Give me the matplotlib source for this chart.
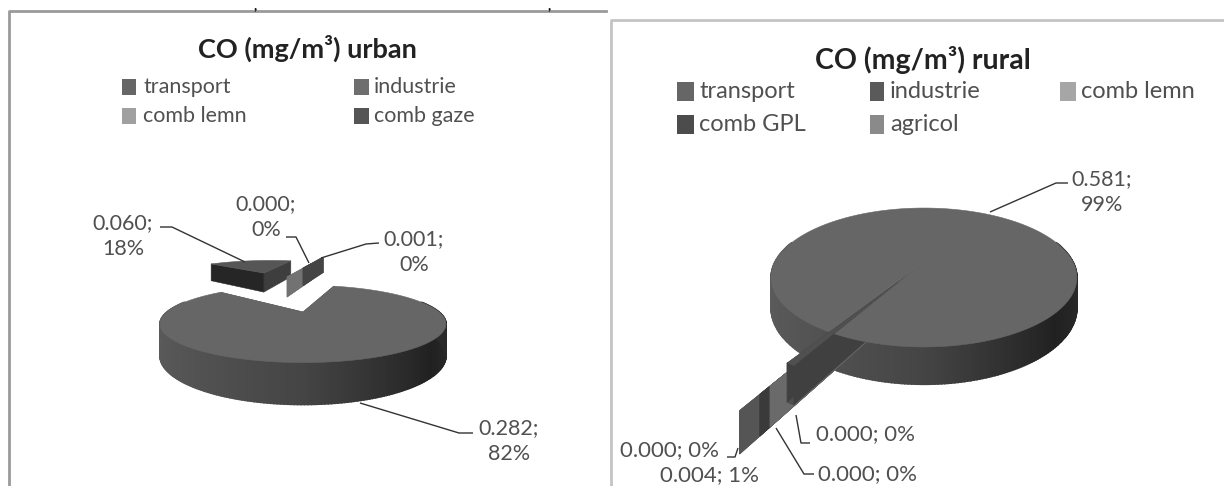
import numpy as np
import matplotlib
matplotlib.use("Agg")
import matplotlib.pyplot as plt
from matplotlib.patches import Rectangle

plt.rcParams['font.family'] = ['Lato', 'DejaVu Sans']

# CO sources, urban
urban_names = ['transport', 'industrie', 'comb lemn', 'comb gaze']
urban_values = [0.282, 0.001, 0.000, 0.060]
urban_shares = [82, 0, 0, 18]
# CO sources, rural
rural_names = ['transport', 'industrie', 'comb lemn', 'comb GPL', 'agricol']
rural_values = [0.581, 0.004, 0.000, 0.000, 0.000]
rural_shares = [99, 1, 0, 0, 0]

TEXT = '#505050'


def project(u, v, z, pie):
    # perspective from unit disc coordinates to pixels, z=0 top face, z=1 bottom
    s = 1.0/(1.0 + pie['p']*v)
    return pie['cx'] + pie['rx']*u*s, pie['cy'] + (-pie['ry']*v + pie['depth']*z)*s


def wall_gray(theta):
    return np.interp(np.cos(theta), [-1, 0, 0.75, 1], [0.36, 0.27, 0.13, 0.16])


def draw_slice_sides(ax, pie, t1, t2, off, cut_colors):
    # outer wall, one small quad per step so the shading runs around the rim
    n = max(int(np.degrees(t2-t1)), 1)
    th = np.linspace(t1, t2, n+1)
    for a, b in zip(th[:-1], th[1:]):
        if np.sin(a) > 0.3 and np.sin(b) > 0.3:
            continue
        pts = [project(off[0]+np.cos(a), off[1]+np.sin(a), 0, pie),
               project(off[0]+np.cos(b), off[1]+np.sin(b), 0, pie),
               project(off[0]+np.cos(b), off[1]+np.sin(b), 1, pie),
               project(off[0]+np.cos(a), off[1]+np.sin(a), 1, pie)]
        g = str(wall_gray((a+b)/2))
        ax.fill(*zip(*pts), color=g, lw=1.2)
    # cut faces from the slice tip out to the rim
    for t, col in zip((t1, t2), cut_colors):
        pts = [project(off[0], off[1], 0, pie),
               project(off[0]+np.cos(t), off[1]+np.sin(t), 0, pie),
               project(off[0]+np.cos(t), off[1]+np.sin(t), 1, pie),
               project(off[0], off[1], 1, pie)]
        ax.fill(*zip(*pts), color=col, lw=0.4)


def draw_slice_top(ax, pie, t1, t2, off, color):
    th = np.linspace(t1, t2, max(int(np.degrees(t2-t1)), 1)+1)
    xs, ys = project(off[0]+np.cos(th), off[1]+np.sin(th), 0, pie)
    x0, y0 = project(off[0], off[1], 0, pie)
    ax.fill(np.r_[x0, xs], np.r_[y0, ys], color=color, lw=0.4)


def draw_pie(ax, values, pie, explode, styles, order):
    # slices run counter-clockwise from the start angle, sized by value
    total = sum(values)
    sweep = np.radians(np.array(values)/total*360.0)
    edges = np.radians(pie['start']) + np.r_[0, np.cumsum(sweep)]
    offs = [(r*np.cos(np.radians(a)), r*np.sin(np.radians(a))) for r, a in explode]
    # first slice is the body of the pie, its top goes on last
    draw_slice_sides(ax, pie, edges[0], edges[1], offs[0], styles[0][1:])
    for i in order:
        draw_slice_sides(ax, pie, edges[i], edges[i+1], offs[i], styles[i][1:])
        draw_slice_top(ax, pie, edges[i], edges[i+1], offs[i], styles[i][0])
    draw_slice_top(ax, pie, edges[0], edges[1], offs[0], styles[0][0])


def leader(ax, pts):
    ax.plot(*zip(*pts), color='#333333', lw=1.0, solid_capstyle='butt', zorder=5)


def legend(ax, names, colors, boxes, text_x, rows, size):
    for name, col, (c, r) in zip(names, colors, rows):
        x0, w = boxes[c]
        y, h = r
        ax.add_patch(Rectangle((x0, y-h/2), w, h, color=col, lw=0))
        ax.text(text_x[c], y, name, color=TEXT, fontsize=size, va='center', ha='left')


fig = plt.figure(figsize=(12.24, 4.86), dpi=100)
ax = fig.add_axes([0, 0, 1, 1])
ax.set_xlim(0, 1224)
ax.set_ylim(486, 0)
ax.axis('off')

# chart frames
ax.plot([9, 9, 606], [486, 11, 11], color='#9a9a9a', lw=2)
ax.plot([611, 611, 1224], [486, 20, 20], color='#c4c4c4', lw=2)
# punctuation left over from the running text above the charts
ax.text(255, 0, ',', color='black', fontsize=10, fontweight='bold', ha='center', va='top')
ax.text(549, 0, ',', color='black', fontsize=10, fontweight='bold', ha='center', va='top')

# urban chart
urban_pie = dict(cx=303, cy=312, rx=136, ry=35, p=0.308, depth=29, start=137)
draw_pie(ax, urban_values, urban_pie,
         explode=[(0, 0), (2.05, 90), (1.455, 96.7), (1.75, 104.5)],
         styles=[('#666666', '#555555', '#555555'),
                 ('#484848', '#444444', '#444444'),
                 ('#777777', '#727272', '#727272'),
                 ('#565656', '#3e3e3e', '#262626')],
         order=[3, 2, 1])
ax.text(307, 48, 'CO (mg/m³) urban', color='#222222', fontsize=19.5, fontweight='bold',
        ha='center', va='center')
legend(ax, urban_names, ['#666666', '#6e6e6e', '#a0a0a0', '#555555'],
       boxes=[(122, 14), (354, 15)], text_x=[143, 374],
       rows=[(0, (87, 16)), (1, (87, 16)), (0, (116, 16)), (1, (116, 16))], size=15.5)

for v, pct, (x, y) in zip(urban_values, urban_shares,
                          [(509, 441), (414, 252), (266, 217), (123, 236)]):
    ax.text(x, y, f"{v:.3f};\n{pct}%", color=TEXT, fontsize=15.5, ha='center',
            va='center', linespacing=1.35)
leader(ax, [(160, 227), (172, 227), (245, 262)])
leader(ax, [(286, 237), (296, 237), (309, 263)])
leader(ax, [(379, 243), (366, 244), (321, 258)])
leader(ax, [(360, 403), (459, 433), (473, 433)])

# rural chart
rural_pie = dict(cx=924, cy=262, rx=149, ry=66, p=0.223, depth=29, start=241.2)
draw_pie(ax, rural_values, rural_pie,
         explode=[(0, 0), (0.33, 240), (0.51, 241.2), (0.58, 241.2), (0.71, 241.2)],
         styles=[('#666666', '#505050', '#505050'),
                 ('#505050', '#404040', '#404040'),
                 ('#6a6a6a', '#6a6a6a', '#6a6a6a'),
                 ('#3a3a3a', '#3a3a3a', '#3a3a3a'),
                 ('#555555', '#555555', '#555555')],
         order=[4, 3, 2, 1])
ax.text(923, 60, 'CO (mg/m³) rural', color='#222222', fontsize=20.5, fontweight='bold',
        ha='center', va='center')
legend(ax, rural_names, ['#666666', '#5a5a5a', '#a6a6a6', '#4c4c4c', '#8a8a8a'],
       boxes=[(677, 17), (870, 14), (1060, 16)], text_x=[699, 890, 1081],
       rows=[(0, (92, 19)), (1, (92, 19)), (2, (92, 19)), (0, (124, 19)), (1, (124, 19))],
       size=17)

ax.text(1102, 192, f"{rural_values[0]:.3f};\n{rural_shares[0]}%", color=TEXT, fontsize=15.5,
        ha='center', va='center', linespacing=1.35)
for v, pct, (x, y) in zip(rural_values[1:], rural_shares[1:],
                          [(709, 475), (865, 434), (868, 474), (670, 450)]):
    ax.text(x, y, f"{v:.3f}; {pct}%", color=TEXT, fontsize=16, ha='center', va='center')
leader(ax, [(1068, 183), (1056, 183), (990, 212)])
leader(ax, [(796, 415), (801, 443), (810, 443)])
leader(ax, [(776, 428), (804, 474), (814, 474)])
leader(ax, [(738, 448), (735, 457), (727, 457)])

fig.savefig('out.png', dpi=100)
